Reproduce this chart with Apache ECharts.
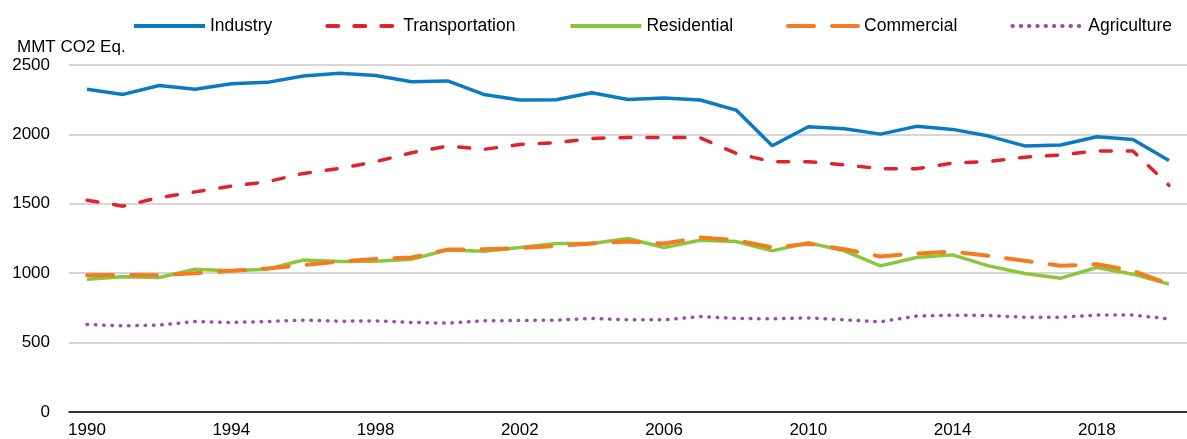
<!DOCTYPE html>
<html>
<head>
<meta charset="utf-8">
<script src="https://cdn.jsdelivr.net/npm/echarts@6/dist/echarts.min.js"></script>
<style>
  html, body { margin: 0; padding: 0; background: #fff; }
  #chart { width: 1187px; height: 439px; }
</style>
</head>
<body>
<div id="chart"></div>
<script>
  const years = [];
  for (let y = 1990; y <= 2020; y++) years.push(String(y));

  const industry = [2325, 2288, 2352, 2325, 2365, 2375, 2421, 2440, 2425, 2380, 2385,
    2288, 2248, 2250, 2300, 2252, 2262, 2248, 2175, 1918, 2055,
    2040, 2002, 2058, 2036, 1988, 1917, 1924, 1983, 1964, 1812];
  const transportation = [1526, 1483, 1545, 1586, 1627, 1659, 1719, 1755, 1803, 1868, 1916,
    1892, 1928, 1940, 1971, 1978, 1978, 1976, 1863, 1803, 1803,
    1781, 1752, 1752, 1793, 1805, 1836, 1852, 1881, 1881, 1633];
  const residential = [957, 974, 969, 1029, 1017, 1029, 1095, 1084, 1086, 1101, 1168,
    1158, 1185, 1214, 1214, 1250, 1185, 1238, 1228, 1161, 1219,
    1161, 1053, 1113, 1132, 1053, 998, 964, 1041, 993, 921];
  const commercial = [986, 988, 986, 1000, 1017, 1034, 1058, 1084, 1103, 1113, 1170,
    1173, 1180, 1197, 1214, 1228, 1214, 1257, 1238, 1185, 1212,
    1173, 1120, 1142, 1156, 1125, 1089, 1053, 1065, 1017, 921];
  const agriculture = [630, 621, 626, 652, 645, 652, 662, 654, 657, 645, 640,
    657, 659, 662, 674, 664, 664, 688, 674, 671, 678,
    664, 650, 691, 698, 695, 683, 683, 698, 698, 671];

  const font = '"Liberation Sans", Arial, sans-serif';
  const chart = echarts.init(document.getElementById('chart'));

  function line(name, data, color, width, dash) {
    return {
      name: name,
      type: 'line',
      data: data,
      symbol: 'none',
      lineStyle: { color: color, width: width, type: dash || 'solid', cap: dash ? 'round' : 'butt' },
      itemStyle: { color: color }
    };
  }

  chart.setOption({
    animation: false,
    textStyle: { fontFamily: font },
    title: {
      text: 'MMT CO2 Eq.',
      left: 12,
      top: 34,
      textStyle: { fontSize: 17, fontWeight: 'normal', color: '#000', fontFamily: font }
    },
    legend: {
      left: 132,
      top: 17,
      padding: 0,
      itemWidth: 71,
      itemHeight: 18,
      itemGap: 53,
      itemStyle: { opacity: 0 },
      lineStyle: { width: 4 },
      textStyle: { fontSize: 17.5, color: '#000', fontFamily: font }
    },
    grid: { left: 69, right: -12, top: 65, bottom: 27 },
    xAxis: {
      type: 'category',
      data: years,
      boundaryGap: true,
      axisLine: { lineStyle: { color: '#000', width: 1.5 } },
      axisTick: { inside: true, length: 6, interval: 0, lineStyle: { color: '#000', width: 1.5 } },
      axisLabel: { interval: 3, fontSize: 17, color: '#000', margin: 10, fontFamily: font }
    },
    yAxis: {
      type: 'value',
      min: 0,
      max: 2500,
      interval: 500,
      axisLine: { show: false },
      axisTick: { show: false },
      axisLabel: { fontSize: 17, color: '#000', margin: 19, fontFamily: font, formatter: v => String(v) },
      splitLine: { lineStyle: { color: '#c8c8c8', width: 1.5 } }
    },
    series: [
      line('Industry', industry, '#0a7bc2', 3.5),
      line('Transportation', transportation, '#e0222b', 3.5, [11, 16]),
      line('Residential', residential, '#8cc63f', 3.5),
      line('Commercial', commercial, '#f47b20', 4, [26, 18]),
      line('Agriculture', agriculture, '#9b4fa8', 3.5, [0.5, 7.8])
    ]
  });
</script>
</body>
</html>
